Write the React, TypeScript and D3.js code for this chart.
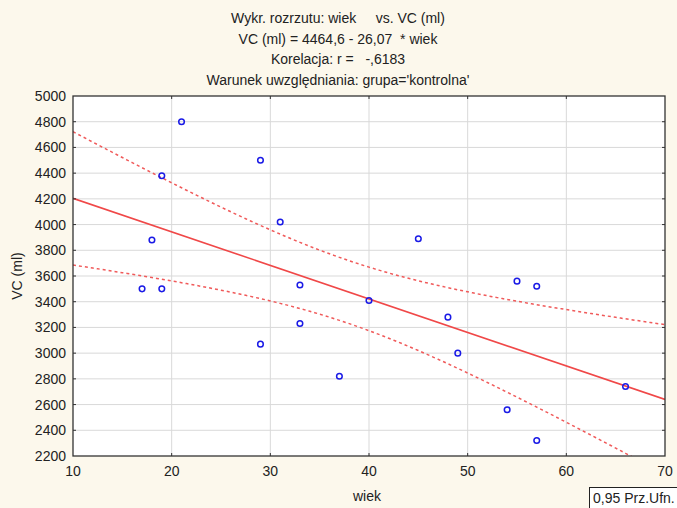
import React, { useRef, useEffect } from 'react';
import * as d3 from 'd3';

// wiek / VC (ml) - grupa kontrolna
const wiek = [17, 18, 19, 19, 21, 29, 29, 31, 33, 33, 37, 40, 45, 48, 49, 54, 55, 57, 57, 66];
const vc = [3500, 3880, 4380, 3500, 4800, 4500, 3070, 4020, 3530, 3230, 2820, 3410, 3890, 3280, 3000, 2560, 3560, 3520, 2320, 2740];

const xTicks = [10, 20, 30, 40, 50, 60, 70];
const yTicks = [2200, 2400, 2600, 2800, 3000, 3200, 3400, 3600, 3800, 4000, 4200, 4400, 4600, 4800, 5000];

const titleLines = [
  'Wykr. rozrzutu: wiek     vs. VC (ml)',
  'VC (ml) = 4464,6 - 26,07  * wiek',
  'Korelacja: r =   -,6183',
  "Warunek uwzględniania: grupa='kontrolna'",
];

const intercept = 4464.6;
const slope = -26.07;
const tCrit = 2.101; // t(0.975, df=18)

function App() {
  const svgRef = useRef<SVGSVGElement>(null);

  useEffect(() => {
    const width = 677;
    const height = 508;
    const left = 73, right = 665, top = 96, bottom = 456;
    const font = 'Liberation Sans, Arial, sans-serif';

    const svg = d3.select(svgRef.current);
    svg.selectAll('*').remove();
    svg.attr('width', width).attr('height', height);

    svg.append('rect').attr('width', width).attr('height', height).attr('fill', '#fcf8ec');

    const x = d3.scaleLinear().domain([10, 70]).range([left, right]);
    const y = d3.scaleLinear().domain([2200, 5000]).range([bottom, top]);

    // tytul
    titleLines.forEach((t, i) => {
      svg.append('text')
        .attr('x', 338)
        .attr('y', 23 + i * 20.5)
        .attr('text-anchor', 'middle')
        .style('font-family', font)
        .style('font-size', '14px')
        .style('white-space', 'pre')
        .attr('fill', '#222')
        .text(t);
    });

    const plot = svg.append('g');
    plot.append('rect')
      .attr('x', left).attr('y', top)
      .attr('width', right - left).attr('height', bottom - top)
      .attr('fill', '#ffffff');

    // siatka
    plot.selectAll('.gx').data(xTicks.slice(1, -1)).enter().append('line')
      .attr('x1', d => x(d)).attr('x2', d => x(d))
      .attr('y1', top).attr('y2', bottom)
      .attr('stroke', '#d9d9d9');
    plot.selectAll('.gy').data(yTicks.slice(1, -1)).enter().append('line')
      .attr('y1', d => y(d)).attr('y2', d => y(d))
      .attr('x1', left).attr('x2', right)
      .attr('stroke', '#d9d9d9');

    // przedzial ufnosci 0,95
    const n = wiek.length;
    const meanX = d3.mean(wiek) as number;
    const sxx = d3.sum(wiek, d => (d - meanX) ** 2);
    const sse = d3.sum(wiek, (d, i) => (vc[i] - (intercept + slope * d)) ** 2);
    const s = Math.sqrt(sse / (n - 2));
    const xs = d3.range(10, 70.01, 0.5);
    const band = (sign: number) => xs.map(v => [v, intercept + slope * v + sign * tCrit * s * Math.sqrt(1 / n + (v - meanX) ** 2 / sxx)]);

    const clip = svg.append('clipPath').attr('id', 'clipPlot');
    clip.append('rect').attr('x', left).attr('y', top).attr('width', right - left).attr('height', bottom - top);

    const line = d3.line<number[]>().x(d => x(d[0])).y(d => y(d[1]));

    const lines = plot.append('g').attr('clip-path', 'url(#clipPlot)');
    [1, -1].forEach(sign => {
      lines.append('path')
        .datum(band(sign))
        .attr('d', line)
        .attr('fill', 'none')
        .attr('stroke', '#f05a5a')
        .attr('stroke-width', 1.5)
        .attr('stroke-dasharray', '3,3');
    });
    lines.append('path')
      .datum([[10, intercept + slope * 10], [70, intercept + slope * 70]])
      .attr('d', line)
      .attr('fill', 'none')
      .attr('stroke', '#f04848')
      .attr('stroke-width', 1.6);

    // punkty
    plot.selectAll('.pt').data(wiek).enter().append('circle')
      .attr('cx', d => x(d))
      .attr('cy', (d, i) => y(vc[i]))
      .attr('r', 2.8)
      .attr('fill', 'none')
      .attr('stroke', '#1a1ae6')
      .attr('stroke-width', 1.5);

    // ramka i znaczniki
    plot.append('rect')
      .attr('x', left).attr('y', top)
      .attr('width', right - left).attr('height', bottom - top)
      .attr('fill', 'none').attr('stroke', '#333').attr('stroke-width', 1.3);

    xTicks.slice(1, -1).forEach(t => {
      plot.append('line').attr('x1', x(t)).attr('x2', x(t)).attr('y1', bottom).attr('y2', bottom - 3).attr('stroke', '#333');
      plot.append('line').attr('x1', x(t)).attr('x2', x(t)).attr('y1', top).attr('y2', top + 3).attr('stroke', '#333');
    });
    yTicks.slice(1, -1).forEach(t => {
      plot.append('line').attr('y1', y(t)).attr('y2', y(t)).attr('x1', left).attr('x2', left + 3).attr('stroke', '#333');
      plot.append('line').attr('y1', y(t)).attr('y2', y(t)).attr('x1', right).attr('x2', right - 3).attr('stroke', '#333');
    });

    // etykiety osi
    svg.selectAll('.xl').data(xTicks).enter().append('text')
      .attr('x', d => x(d))
      .attr('y', bottom + 20)
      .attr('text-anchor', 'middle')
      .style('font-family', font)
      .style('font-size', '14px')
      .attr('fill', '#222')
      .text(d => d);

    svg.selectAll('.yl').data(yTicks).enter().append('text')
      .attr('x', left - 7)
      .attr('y', d => y(d) + 5)
      .attr('text-anchor', 'end')
      .style('font-family', font)
      .style('font-size', '14px')
      .attr('fill', '#222')
      .text(d => d);

    svg.append('text')
      .attr('x', 367)
      .attr('y', 501)
      .attr('text-anchor', 'middle')
      .style('font-family', font)
      .style('font-size', '14px')
      .attr('fill', '#222')
      .text('wiek');

    svg.append('text')
      .attr('transform', `translate(22, ${(top + bottom) / 2}) rotate(-90)`)
      .attr('text-anchor', 'middle')
      .style('font-family', font)
      .style('font-size', '14px')
      .attr('fill', '#222')
      .text('VC (ml)');

    // legenda
    svg.append('rect')
      .attr('x', 589.5).attr('y', 487.5)
      .attr('width', 100).attr('height', 30)
      .attr('fill', '#ffffff').attr('stroke', '#222');
    svg.append('text')
      .attr('x', 593)
      .attr('y', 503)
      .style('font-family', font)
      .style('font-size', '14px')
      .attr('fill', '#222')
      .text('0,95 Prz.Ufn.');
  }, []);

  return <svg ref={svgRef} style={{ position: 'absolute', left: 0, top: 0, display: 'block' }}></svg>;
}

export default App;
